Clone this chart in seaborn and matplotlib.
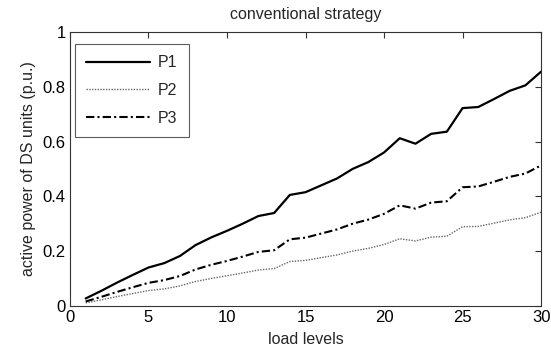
import matplotlib
matplotlib.use("Agg")
import matplotlib.pyplot as plt
import seaborn as sns
import pandas as pd

load_levels = list(range(1, 31))
p1 = [0.027, 0.055, 0.085, 0.113, 0.140, 0.156, 0.182, 0.222, 0.250, 0.274,
      0.300, 0.328, 0.339, 0.405, 0.415, 0.440, 0.465, 0.500, 0.525, 0.560,
      0.612, 0.592, 0.628, 0.636, 0.722, 0.726, 0.755, 0.785, 0.805, 0.855]
p2 = [0.011, 0.022, 0.034, 0.045, 0.056, 0.062, 0.073, 0.089, 0.100, 0.110,
      0.120, 0.131, 0.136, 0.162, 0.166, 0.176, 0.186, 0.200, 0.210, 0.224,
      0.245, 0.237, 0.251, 0.254, 0.289, 0.290, 0.302, 0.314, 0.322, 0.342]
p3 = [0.016, 0.033, 0.051, 0.068, 0.084, 0.094, 0.109, 0.133, 0.150, 0.164,
      0.180, 0.197, 0.203, 0.243, 0.249, 0.264, 0.279, 0.300, 0.315, 0.336,
      0.367, 0.355, 0.377, 0.382, 0.433, 0.436, 0.453, 0.471, 0.483, 0.513]

sns.set_style("white")
plt.rcParams['font.family'] = ['Liberation Sans', 'DejaVu Sans']

fig = plt.figure(figsize=(5.51, 3.59), dpi=100)
ax = fig.add_axes([0.127, 0.148, 0.855, 0.763])

sns.lineplot(x=load_levels, y=p1, ax=ax, color='black', lw=1.6, label='P1')
sns.lineplot(x=load_levels, y=p2, ax=ax, color='#666666', lw=1.0, linestyle=(0, (1, 1)), label='P2')
sns.lineplot(x=load_levels, y=p3, ax=ax, color='black', lw=1.5, linestyle=(0, (4, 1.5, 1, 1.5)), label='P3')

ax.set_xlim(0, 30)
ax.set_ylim(0, 1)
ax.set_xticks([0, 5, 10, 15, 20, 25, 30])
ax.set_yticks([0, 0.2, 0.4, 0.6, 0.8, 1])
ax.set_yticklabels(['0', '0.2', '0.4', '0.6', '0.8', '1'])
ax.tick_params(direction='in', length=4, width=0.8, top=True, right=True,
               labelsize=12, colors='#333333', labelcolor='black', pad=3)
for s in ax.spines.values():
    s.set_color('#333333')
    s.set_linewidth(0.8)
ax.set_xlabel('load levels', fontsize=11.5, labelpad=5)
ax.set_ylabel('active power of DS units (p.u.)', fontsize=11.5, labelpad=5)
ax.set_title('conventional strategy', fontsize=11.5, pad=9)

leg = ax.legend(loc='upper left', bbox_to_anchor=(0.0106, 0.956), borderaxespad=0,
                fontsize=11.5, frameon=True, fancybox=False,
                edgecolor='#333333', handlelength=4.0, handletextpad=0.5,
                labelspacing=0.8, borderpad=0.7)
leg.get_frame().set_linewidth(0.8)

fig.savefig('out.png', dpi=100)
